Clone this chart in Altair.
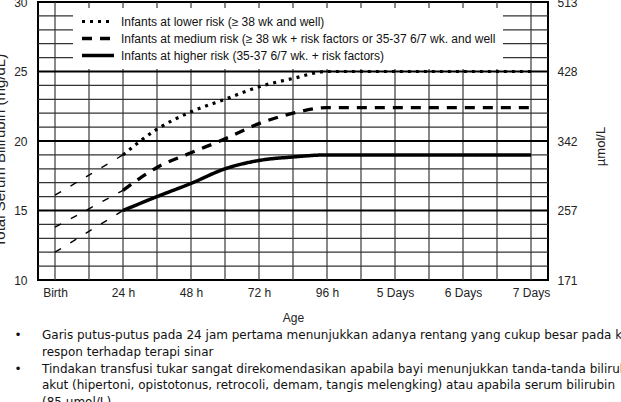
import altair as alt
import pandas as pd

# ---------------- data ----------------
series_names = [
    "Infants at lower risk (\u2265 38 wk and well)",
    "Infants at medium risk (\u2265 38 wk + risk factors or 35-37 6/7 wk. and well",
    "Infants at higher risk (35-37 6/7 wk. + risk factors)",
]
hours = [24, 36, 48, 60, 72, 84, 96, 168]
lower = [19.0, 20.85, 22.1, 23.0, 23.9, 24.5, 25.0, 25.0]
medium = [16.45, 18.1, 19.15, 20.15, 21.25, 22.0, 22.4, 22.4]
higher = [15.0, 16.0, 16.95, 18.0, 18.6, 18.85, 19.0, 19.0]

pre_hours = [0, 24]
pre_lower = [16.1, 19.0]
pre_medium = [13.8, 16.45]
pre_higher = [12.0, 15.0]

x_tick_hours = [0, 24, 48, 72, 96, 120, 144, 168]
x_tick_labels = ["Birth", "24 h", "48 h", "72 h", "96 h", "5 Days", "6 Days", "7 Days"]
y_ticks = [10, 15, 20, 25, 30]
umol_ticks = [171, 257, 342, 428, 513]
grid_hours = [0, 12, 24, 36, 48, 60, 72, 84, 96, 108, 120, 132, 144, 156, 168]
grid_major_mg = [15, 20, 25]
grid_minor_mg = [11, 12, 13, 14, 16, 17, 18, 19, 21, 22, 23, 24, 26, 27, 28, 29]

caption_1 = [
    "Garis putus-putus pada 24 jam pertama menunjukkan adanya rentang yang cukup besar pada kadar",
    "respon terhadap terapi sinar",
]
caption_2 = [
    "Tindakan transfusi tukar sangat direkomendasikan apabila bayi menunjukkan tanda-tanda bilirubin",
    "akut (hipertoni, opistotonus, retrocoli, demam, tangis melengking) atau apabila serum bilirubin",
    "(85 \u00b5mol/L)",
]

# ---------------- tables ----------------
main_rows = []
for name, vals in zip(series_names, [lower, medium, higher]):
    for h, v in zip(hours, vals):
        main_rows.append({"series": name, "hour": h, "mg": v})
main_df = pd.DataFrame(main_rows)

pre_rows = []
for name, vals in zip(series_names, [pre_lower, pre_medium, pre_higher]):
    for h, v in zip(pre_hours, vals):
        pre_rows.append({"series": name, "hour": h, "mg": v})
pre_df = pd.DataFrame(pre_rows)

FONT = "Liberation Sans"
W, H = 510, 278

x_scale = alt.Scale(domain=[-6, 174], nice=False, zero=False)
y_scale = alt.Scale(domain=[10, 30], nice=False, zero=False)

label_expr = ""
for h, lab in zip(x_tick_hours, x_tick_labels):
    label_expr += f"datum.value == {h} ? '{lab}' : "
label_expr += "''"

x_axis = alt.Axis(
    values=x_tick_hours, labelExpr=label_expr, title="Age", grid=False,
    domain=False, ticks=False, labelPadding=7, labelFontSize=12,
    titleFontSize=12, titleFontWeight="normal", titleY=37, titleBaseline="middle",
)
y_axis = alt.Axis(
    values=y_ticks, title="Total Serum Bilirubin (mg/dL)", grid=False,
    domain=False, ticks=False, labelPadding=11, labelFontSize=12,
    titleFontSize=15, titleFontWeight="normal", titleX=-39, titleY=148,
    titleAngle=270, titleBaseline="middle", titleAlign="center",
)


def X():
    return alt.X("hour:Q", scale=x_scale, axis=x_axis, title="Age")


def Y():
    return alt.Y("mg:Q", scale=y_scale, axis=y_axis, title="Total Serum Bilirubin (mg/dL)")


# grid
vgrid = alt.Chart(pd.DataFrame({"hour": grid_hours})).mark_rule(
    color="#3a3a3a", strokeWidth=1.2
).encode(x=X())

hgrid_minor = alt.Chart(pd.DataFrame({"mg": grid_minor_mg})).mark_rule(
    color="#333", strokeWidth=1.2
).encode(y=Y())

hgrid_major = alt.Chart(pd.DataFrame({"mg": grid_major_mg})).mark_rule(
    color="black", strokeWidth=2
).encode(y=Y())

pre_lines = alt.Chart(pre_df).mark_line(
    color="black", strokeWidth=1.4, strokeDash=[7, 11]
).encode(x=X(), y=Y(), detail="series:N")

legend = alt.Legend(
    orient="none", legendX=35, legendY=6, fillColor="white", padding=7,
    symbolType="stroke", symbolSize=1024, symbolStrokeColor="black",
    labelFont=FONT, labelFontSize=12, labelColor="#111", labelLimit=600,
    labelOffset=5, rowPadding=4, clipHeight=13, direction="vertical",
)

main_lines = alt.Chart(main_df).mark_line(
    color="black", interpolate="monotone"
).encode(
    x=X(), y=Y(),
    strokeDash=alt.StrokeDash(
        "series:N", title=None,
        scale=alt.Scale(domain=series_names, range=[[3, 5], [10, 8], [1, 0]]),
        legend=legend,
    ),
    strokeWidth=alt.StrokeWidth(
        "series:N", title=None,
        scale=alt.Scale(domain=series_names, range=[3.2, 3.5, 3.6]),
        legend=legend,
    ),
    order=alt.Order("hour:Q"),
)

cap_font = "DejaVu Sans"
cap_layers = []
for k, lines in enumerate([caption_1, caption_2]):
    base_y = 339 if k == 0 else 372.5
    cap_layers.append(
        alt.Chart(pd.DataFrame({"t": ["\u2022"]})).mark_text(
            align="center", baseline="alphabetic", font=cap_font, fontSize=12, color="#111"
        ).encode(text="t:N", x=alt.value(18 - 38), y=alt.value(base_y - 2))
    )
    cap_layers.append(
        alt.Chart(pd.DataFrame({"t": ["\n".join(lines)]})).mark_text(
            align="left", baseline="alphabetic", font=cap_font, fontSize=12,
            color="#111", lineBreak="\n", lineHeight=16.6
        ).encode(text="t:N", x=alt.value(42 - 38), y=alt.value(base_y - 2))
    )

left = alt.layer(vgrid, hgrid_minor, hgrid_major, pre_lines, main_lines, *cap_layers)

right = alt.Chart(pd.DataFrame({"umol": umol_ticks})).mark_point(opacity=0).encode(
    y=alt.Y(
        "umol:Q",
        scale=alt.Scale(domain=[171, 513], nice=False, zero=False),
        axis=alt.Axis(
            orient="right", values=umol_ticks, title="\u00b5mol/L", grid=False,
            domain=False, ticks=False, labelPadding=9, labelFontSize=12,
            titleFontSize=13, titleFontWeight="normal", titleAngle=270,
            titleX=52, titleY=144, titleBaseline="middle", titleAlign="center",
        ),
    )
)

chart = alt.layer(left, right).resolve_scale(y="independent").properties(
    width=W, height=H,
    autosize=alt.AutoSizeParams(type="none"),
    padding={"left": 38, "top": 2, "right": 73, "bottom": 122},
    background="white",
).configure_view(
    stroke="black", strokeWidth=2
).configure_axis(
    labelFont=FONT, titleFont=FONT, labelColor="#222", titleColor="#222"
)

chart.save("out.html", embed_options={"renderer": "svg", "actions": False})
